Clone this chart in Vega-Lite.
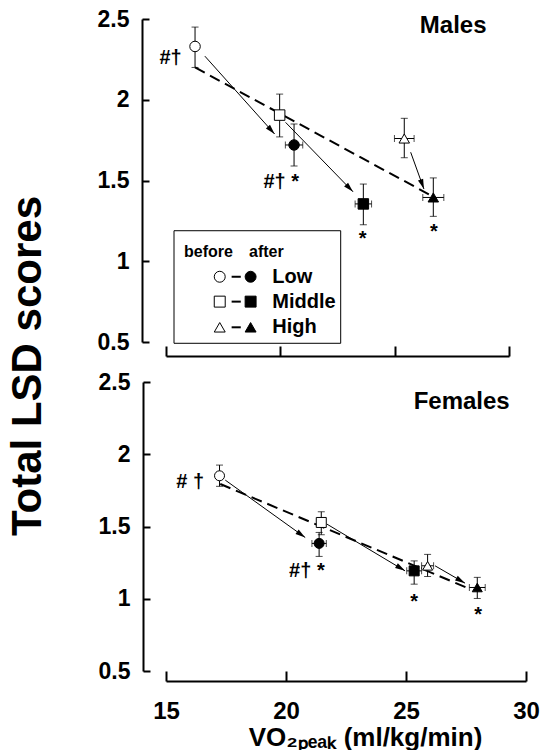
{
  "$schema": "https://vega.github.io/schema/vega-lite/v6.json",
  "padding": {"left": 7, "top": 8, "right": 5, "bottom": 0},
  "title": {"text": "Total LSD scores", "orient": "left", "anchor": "middle", "font": "Liberation Sans", "fontSize": 42, "fontWeight": "bold", "color": "black", "offset": 47, "dx": 13},
  "spacing": 40,
  "bounds": "flush",
  "resolve": {"scale": {"x": "independent", "y": "independent"}},
  "datasets": {
    "pts": [
      {"panel": "Males", "group": "Low", "phase": "before", "vo2": 16.27, "lsd": 2.33, "lsd_lo": 2.2, "lsd_hi": 2.45, "vo2_lo": null, "vo2_hi": null},
      {"panel": "Males", "group": "Low", "phase": "after", "vo2": 20.6, "lsd": 1.72, "lsd_lo": 1.59, "lsd_hi": 1.85, "vo2_lo": 20.22, "vo2_hi": 20.98},
      {"panel": "Males", "group": "Middle", "phase": "before", "vo2": 19.97, "lsd": 1.905, "lsd_lo": 1.77, "lsd_hi": 2.035, "vo2_lo": null, "vo2_hi": null},
      {"panel": "Males", "group": "Middle", "phase": "after", "vo2": 23.63, "lsd": 1.355, "lsd_lo": 1.226, "lsd_hi": 1.478, "vo2_lo": 23.27, "vo2_hi": 23.99},
      {"panel": "Males", "group": "High", "phase": "before", "vo2": 25.42, "lsd": 1.76, "lsd_lo": 1.641, "lsd_hi": 1.885, "vo2_lo": 24.99, "vo2_hi": 25.85},
      {"panel": "Males", "group": "High", "phase": "after", "vo2": 26.69, "lsd": 1.395, "lsd_lo": 1.278, "lsd_hi": 1.516, "vo2_lo": 26.23, "vo2_hi": 27.15},
      {"panel": "Females", "group": "Low", "phase": "before", "vo2": 17.23, "lsd": 1.851, "lsd_lo": 1.778, "lsd_hi": 1.925, "vo2_lo": null, "vo2_hi": null},
      {"panel": "Females", "group": "Low", "phase": "after", "vo2": 21.38, "lsd": 1.383, "lsd_lo": 1.293, "lsd_hi": 1.459, "vo2_lo": 21.08, "vo2_hi": 21.68},
      {"panel": "Females", "group": "Middle", "phase": "before", "vo2": 21.47, "lsd": 1.528, "lsd_lo": 1.443, "lsd_hi": 1.602, "vo2_lo": null, "vo2_hi": null},
      {"panel": "Females", "group": "Middle", "phase": "after", "vo2": 25.34, "lsd": 1.193, "lsd_lo": 1.101, "lsd_hi": 1.262, "vo2_lo": 25.03, "vo2_hi": 25.65},
      {"panel": "Females", "group": "High", "phase": "before", "vo2": 25.9, "lsd": 1.228, "lsd_lo": 1.154, "lsd_hi": 1.307, "vo2_lo": 25.65, "vo2_hi": 26.15},
      {"panel": "Females", "group": "High", "phase": "after", "vo2": 27.97, "lsd": 1.078, "lsd_lo": 1.002, "lsd_hi": 1.148, "vo2_lo": 27.64, "vo2_hi": 28.3}
    ],
    "arrows": [
      {"panel": "Males", "group": "Low", "vo2": 16.7, "lsd": 2.27, "vo2_end": 19.75, "lsd_end": 1.788},
      {"panel": "Males", "group": "Middle", "vo2": 20.23, "lsd": 1.86, "vo2_end": 23.18, "lsd_end": 1.43},
      {"panel": "Males", "group": "High", "vo2": 25.7, "lsd": 1.675, "vo2_end": 26.28, "lsd_end": 1.447},
      {"panel": "Females", "group": "Low", "vo2": 17.47, "lsd": 1.821, "vo2_end": 20.8, "lsd_end": 1.424},
      {"panel": "Females", "group": "Middle", "vo2": 21.7, "lsd": 1.517, "vo2_end": 24.96, "lsd_end": 1.193},
      {"panel": "Females", "group": "High", "vo2": 26.21, "lsd": 1.228, "vo2_end": 27.46, "lsd_end": 1.108}
    ],
    "fits": [
      {"panel": "Males", "vo2": 16.27, "lsd": 2.2, "vo2_end": 26.55, "lsd_end": 1.41},
      {"panel": "Females", "vo2": 17.26, "lsd": 1.794, "vo2_end": 27.67, "lsd_end": 1.067}
    ],
    "notes": [
      {"panel": "Males", "vo2": 15.2, "lsd": 2.26, "label": "#†"},
      {"panel": "Males", "vo2": 20.04, "lsd": 1.49, "label": "#† *"},
      {"panel": "Males", "vo2": 23.6, "lsd": 1.14, "label": "*"},
      {"panel": "Males", "vo2": 26.72, "lsd": 1.18, "label": "*"},
      {"panel": "Females", "vo2": 16.01, "lsd": 1.81, "label": "# †"},
      {"panel": "Females", "vo2": 20.87, "lsd": 1.193, "label": "#† *"},
      {"panel": "Females", "vo2": 25.34, "lsd": 0.976, "label": "*"},
      {"panel": "Females", "vo2": 28.01, "lsd": 0.889, "label": "*"}
    ],
    "heads": [
      {"panel": "Males", "vo2": 27.56, "lsd": 2.459, "label": "Males"},
      {"panel": "Females", "vo2": 27.32, "lsd": 2.359, "label": "Females"}
    ],
    "legend_box": [{"vo2": 15.35, "vo2_end": 22.64, "lsd": 0.492, "lsd_end": 1.189}],
    "legend_keys": [
      {"group": "Low", "phase": "before", "vo2": 17.35, "lsd": 0.904},
      {"group": "Low", "phase": "after", "vo2": 18.7, "lsd": 0.904},
      {"group": "Middle", "phase": "before", "vo2": 17.35, "lsd": 0.75},
      {"group": "Middle", "phase": "after", "vo2": 18.7, "lsd": 0.75},
      {"group": "High", "phase": "before", "vo2": 17.35, "lsd": 0.591},
      {"group": "High", "phase": "after", "vo2": 18.7, "lsd": 0.591}
    ],
    "legend_dash": [
      {"group": "Low", "vo2": 17.87, "vo2_end": 18.27, "lsd": 0.904},
      {"group": "Middle", "vo2": 17.87, "vo2_end": 18.27, "lsd": 0.75},
      {"group": "High", "vo2": 17.87, "vo2_end": 18.27, "lsd": 0.591}
    ],
    "legend_labels": [
      {"label": "Low", "vo2": 19.65, "lsd": 0.904},
      {"label": "Middle", "vo2": 19.65, "lsd": 0.75},
      {"label": "High", "vo2": 19.65, "lsd": 0.591}
    ],
    "legend_header": [
      {"label": "before", "vo2": 15.79, "lsd": 1.057},
      {"label": "after", "vo2": 18.63, "lsd": 1.057}
    ]
  },
  "vconcat": [
    {
      "width": 343,
      "height": 323,
      "encoding": {
        "x": {"field": "vo2", "type": "quantitative", "scale": {"domain": [15, 30], "nice": false, "zero": false}, "axis": {"values": [15, 20, 25, 30], "labels": false, "title": null, "offset": 14, "tickSize": -10}},
        "y": {"field": "lsd", "type": "quantitative", "scale": {"domain": [0.5, 2.5], "nice": false, "zero": false}, "axis": {"values": [0.5, 1, 1.5, 2, 2.5], "format": "~g", "title": null, "offset": 24, "tickSize": -7, "labelPadding": 20}}
      },
      "layer": [
        {"data": {"name": "legend_box"}, "mark": {"type": "rect", "fill": "white", "stroke": "black", "strokeWidth": 1},
          "encoding": {"x2": {"field": "vo2_end"}, "y2": {"field": "lsd_end"}}},
        {"data": {"name": "pts"}, "transform": [{"filter": "datum.panel === 'Males'"}], "mark": {"type": "rule", "color": "black", "strokeWidth": 1},
          "encoding": {"y": {"field": "lsd_lo", "type": "quantitative", "scale": {"domain": [0.5, 2.5], "nice": false}}, "y2": {"field": "lsd_hi"}}},
        {"data": {"name": "pts"}, "transform": [{"filter": "datum.panel === 'Males'"}], "mark": {"type": "tick", "orient": "horizontal", "color": "black", "thickness": 1, "size": 7},
          "encoding": {"y": {"field": "lsd_lo", "type": "quantitative", "scale": {"domain": [0.5, 2.5], "nice": false}}}},
        {"data": {"name": "pts"}, "transform": [{"filter": "datum.panel === 'Males'"}], "mark": {"type": "tick", "orient": "horizontal", "color": "black", "thickness": 1, "size": 7},
          "encoding": {"y": {"field": "lsd_hi", "type": "quantitative", "scale": {"domain": [0.5, 2.5], "nice": false}}}},
        {"data": {"name": "pts"}, "transform": [{"filter": "datum.panel === 'Males' && datum.vo2_lo != null"}], "mark": {"type": "rule", "color": "black", "strokeWidth": 1},
          "encoding": {"x": {"field": "vo2_lo", "type": "quantitative", "scale": {"domain": [15, 30], "nice": false}}, "x2": {"field": "vo2_hi"}}},
        {"data": {"name": "pts"}, "transform": [{"filter": "datum.panel === 'Males' && datum.vo2_lo != null"}], "mark": {"type": "tick", "orient": "vertical", "color": "black", "thickness": 1, "size": 7},
          "encoding": {"x": {"field": "vo2_lo", "type": "quantitative", "scale": {"domain": [15, 30], "nice": false}}}},
        {"data": {"name": "pts"}, "transform": [{"filter": "datum.panel === 'Males' && datum.vo2_lo != null"}], "mark": {"type": "tick", "orient": "vertical", "color": "black", "thickness": 1, "size": 7},
          "encoding": {"x": {"field": "vo2_hi", "type": "quantitative", "scale": {"domain": [15, 30], "nice": false}}}},
        {"data": {"name": "fits"}, "transform": [{"filter": "datum.panel === 'Males'"}], "mark": {"type": "rule", "color": "black", "strokeWidth": 2, "strokeDash": [11, 6]},
          "encoding": {"x2": {"field": "vo2_end"}, "y2": {"field": "lsd_end"}}},
        {"data": {"name": "arrows"}, "transform": [{"filter": "datum.panel === 'Males'"}], "mark": {"type": "rule", "color": "black", "strokeWidth": 1},
          "encoding": {"x2": {"field": "vo2_end"}, "y2": {"field": "lsd_end"}}},
        {"data": {"name": "arrows"}, "transform": [{"filter": "datum.panel === 'Males'"}, {"calculate": "atan2((datum.vo2_end - datum.vo2) * 22.87, (datum.lsd_end - datum.lsd) * 161.5) * 180 / PI", "as": "ang"}],
          "mark": {"type": "point", "shape": "M0,0L0.55,2L-0.55,2Z", "filled": true, "color": "black", "size": 100, "opacity": 1},
          "encoding": {"x": {"field": "vo2_end", "type": "quantitative", "scale": {"domain": [15, 30], "nice": false}}, "y": {"field": "lsd_end", "type": "quantitative", "scale": {"domain": [0.5, 2.5], "nice": false}}, "angle": {"field": "ang", "type": "quantitative", "scale": null}}},
        {"data": {"name": "pts"}, "transform": [{"filter": "datum.panel === 'Males'"}],
          "mark": {"type": "point", "filled": true, "stroke": "black", "strokeWidth": 1, "size": 110, "opacity": 1},
          "encoding": {
            "shape": {"field": "group", "type": "nominal", "scale": {"domain": ["Low", "Middle", "High"], "range": ["circle", "square", "triangle-up"]}, "legend": null},
            "fill": {"field": "phase", "type": "nominal", "scale": {"domain": ["before", "after"], "range": ["white", "black"]}, "legend": null}}},
        {"data": {"name": "notes"}, "transform": [{"filter": "datum.panel === 'Males'"}], "mark": {"type": "text", "fontSize": 20, "fontWeight": "bold", "color": "black", "font": "Liberation Sans"},
          "encoding": {"text": {"field": "label"}}},
        {"data": {"name": "heads"}, "transform": [{"filter": "datum.panel === 'Males'"}], "mark": {"type": "text", "fontSize": 24, "fontWeight": "bold", "color": "black", "font": "Liberation Sans"},
          "encoding": {"text": {"field": "label"}}},
        {"data": {"name": "legend_dash"}, "mark": {"type": "rule", "color": "black", "strokeWidth": 2},
          "encoding": {"x2": {"field": "vo2_end"}}},
        {"data": {"name": "legend_keys"},
          "mark": {"type": "point", "filled": true, "stroke": "black", "strokeWidth": 1, "size": 120, "opacity": 1},
          "encoding": {
            "shape": {"field": "group", "type": "nominal", "scale": {"domain": ["Low", "Middle", "High"], "range": ["circle", "square", "triangle-up"]}, "legend": null},
            "fill": {"field": "phase", "type": "nominal", "scale": {"domain": ["before", "after"], "range": ["white", "black"]}, "legend": null}}},
        {"data": {"name": "legend_labels"}, "mark": {"type": "text", "align": "left", "fontSize": 20, "fontWeight": "bold", "color": "black", "font": "Liberation Sans"},
          "encoding": {"text": {"field": "label"}}},
        {"data": {"name": "legend_header"}, "mark": {"type": "text", "align": "left", "fontSize": 16, "fontWeight": "bold", "color": "black", "font": "Liberation Sans"},
          "encoding": {"text": {"field": "label"}}}
      ]
    },
    {
      "width": 360,
      "height": 289,
      "encoding": {
        "x": {"field": "vo2", "type": "quantitative", "scale": {"domain": [15, 30], "nice": false, "zero": false}, "axis": {"values": [15, 20, 25, 30], "title": "VO₂ₚₑₐₖ (ml/kg/min)", "offset": 10, "tickSize": -10, "labelPadding": 28, "labelFontSize": 24, "titlePadding": 1, "titleFontSize": 26, "titleX": 199}},
        "y": {"field": "lsd", "type": "quantitative", "scale": {"domain": [0.5, 2.5], "nice": false, "zero": false}, "axis": {"values": [0.5, 1, 1.5, 2, 2.5], "format": "~g", "title": null, "offset": 23, "tickSize": -7, "labelPadding": 20}}
      },
      "layer": [
        {"data": {"name": "pts"}, "transform": [{"filter": "datum.panel === 'Females'"}], "mark": {"type": "rule", "color": "black", "strokeWidth": 1},
          "encoding": {"y": {"field": "lsd_lo", "type": "quantitative", "scale": {"domain": [0.5, 2.5], "nice": false}}, "y2": {"field": "lsd_hi"}}},
        {"data": {"name": "pts"}, "transform": [{"filter": "datum.panel === 'Females'"}], "mark": {"type": "tick", "orient": "horizontal", "color": "black", "thickness": 1, "size": 7},
          "encoding": {"y": {"field": "lsd_lo", "type": "quantitative", "scale": {"domain": [0.5, 2.5], "nice": false}}}},
        {"data": {"name": "pts"}, "transform": [{"filter": "datum.panel === 'Females'"}], "mark": {"type": "tick", "orient": "horizontal", "color": "black", "thickness": 1, "size": 7},
          "encoding": {"y": {"field": "lsd_hi", "type": "quantitative", "scale": {"domain": [0.5, 2.5], "nice": false}}}},
        {"data": {"name": "pts"}, "transform": [{"filter": "datum.panel === 'Females' && datum.vo2_lo != null"}], "mark": {"type": "rule", "color": "black", "strokeWidth": 1},
          "encoding": {"x": {"field": "vo2_lo", "type": "quantitative", "scale": {"domain": [15, 30], "nice": false}}, "x2": {"field": "vo2_hi"}}},
        {"data": {"name": "pts"}, "transform": [{"filter": "datum.panel === 'Females' && datum.vo2_lo != null"}], "mark": {"type": "tick", "orient": "vertical", "color": "black", "thickness": 1, "size": 7},
          "encoding": {"x": {"field": "vo2_lo", "type": "quantitative", "scale": {"domain": [15, 30], "nice": false}}}},
        {"data": {"name": "pts"}, "transform": [{"filter": "datum.panel === 'Females' && datum.vo2_lo != null"}], "mark": {"type": "tick", "orient": "vertical", "color": "black", "thickness": 1, "size": 7},
          "encoding": {"x": {"field": "vo2_hi", "type": "quantitative", "scale": {"domain": [15, 30], "nice": false}}}},
        {"data": {"name": "fits"}, "transform": [{"filter": "datum.panel === 'Females'"}], "mark": {"type": "rule", "color": "black", "strokeWidth": 2, "strokeDash": [11, 6]},
          "encoding": {"x2": {"field": "vo2_end"}, "y2": {"field": "lsd_end"}}},
        {"data": {"name": "arrows"}, "transform": [{"filter": "datum.panel === 'Females'"}], "mark": {"type": "rule", "color": "black", "strokeWidth": 1},
          "encoding": {"x2": {"field": "vo2_end"}, "y2": {"field": "lsd_end"}}},
        {"data": {"name": "arrows"}, "transform": [{"filter": "datum.panel === 'Females'"}, {"calculate": "atan2((datum.vo2_end - datum.vo2) * 24.02, (datum.lsd_end - datum.lsd) * 144.4) * 180 / PI", "as": "ang"}],
          "mark": {"type": "point", "shape": "M0,0L0.55,2L-0.55,2Z", "filled": true, "color": "black", "size": 100, "opacity": 1},
          "encoding": {"x": {"field": "vo2_end", "type": "quantitative", "scale": {"domain": [15, 30], "nice": false}}, "y": {"field": "lsd_end", "type": "quantitative", "scale": {"domain": [0.5, 2.5], "nice": false}}, "angle": {"field": "ang", "type": "quantitative", "scale": null}}},
        {"data": {"name": "pts"}, "transform": [{"filter": "datum.panel === 'Females'"}],
          "mark": {"type": "point", "filled": true, "stroke": "black", "strokeWidth": 1, "size": 100, "opacity": 1},
          "encoding": {
            "shape": {"field": "group", "type": "nominal", "scale": {"domain": ["Low", "Middle", "High"], "range": ["circle", "square", "triangle-up"]}, "legend": null},
            "fill": {"field": "phase", "type": "nominal", "scale": {"domain": ["before", "after"], "range": ["white", "black"]}, "legend": null}}},
        {"data": {"name": "notes"}, "transform": [{"filter": "datum.panel === 'Females'"}], "mark": {"type": "text", "fontSize": 20, "fontWeight": "bold", "color": "black", "font": "Liberation Sans"},
          "encoding": {"text": {"field": "label"}}},
        {"data": {"name": "heads"}, "transform": [{"filter": "datum.panel === 'Females'"}], "mark": {"type": "text", "fontSize": 24, "fontWeight": "bold", "color": "black", "font": "Liberation Sans"},
          "encoding": {"text": {"field": "label"}}}
      ]
    }
  ],
  "config": {
    "view": {"stroke": null},
    "font": "Liberation Sans",
    "axis": {"domainColor": "black", "domainWidth": 2, "tickColor": "black", "tickWidth": 2, "labelColor": "black", "labelFont": "Liberation Sans", "labelFontWeight": "bold", "labelFontSize": 23, "grid": false, "titleColor": "black", "titleFont": "Liberation Sans", "titleFontWeight": "bold", "titleFontSize": 24, "labelFlush": false, "labelOverlap": false}
  }
}
